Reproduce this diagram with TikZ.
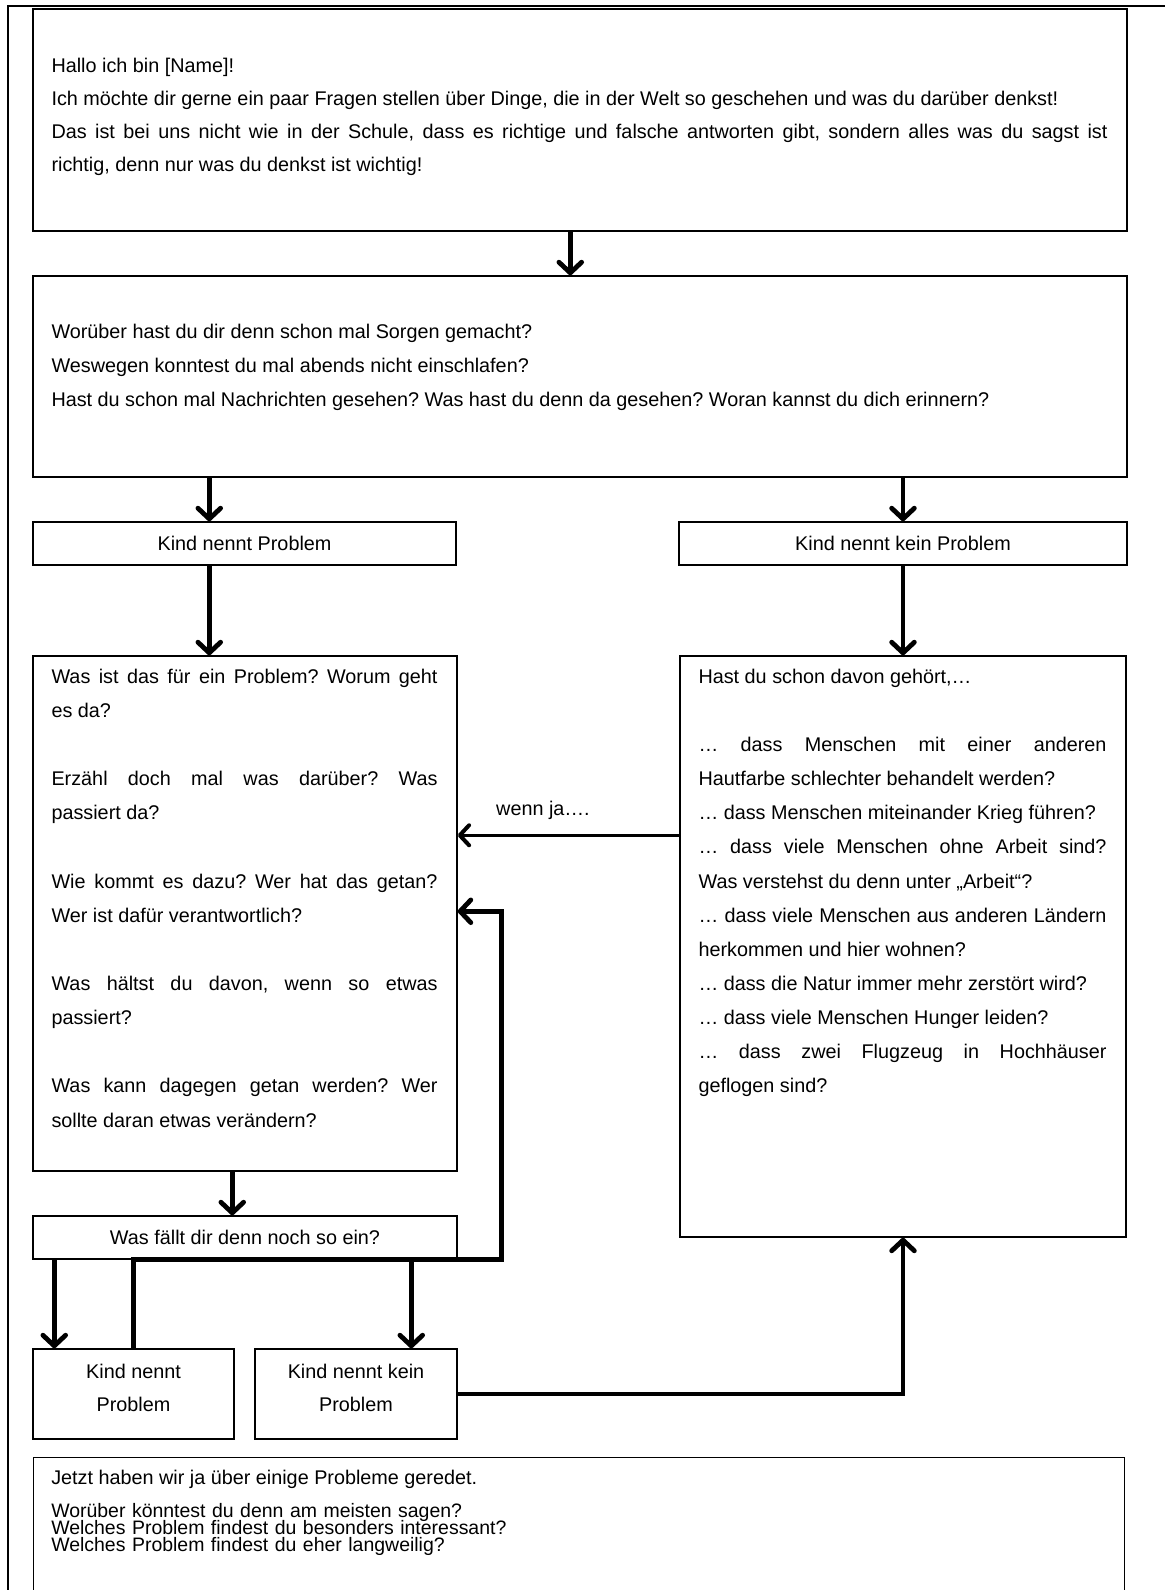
\documentclass[tikz,border=0pt]{standalone}
\usepackage{fontspec}
\setmainfont{Liberation Sans}
\usetikzlibrary{arrows.meta,calc}
\hyphenpenalty=10000
\exhyphenpenalty=10000
\tolerance=2000
\frenchspacing

\tikzset{
  box/.style={draw,line width=1.1pt,rectangle,inner sep=0pt},
  txt/.style={inner sep=0pt,align=justify,font=\fontsize{14.85}{25.6}\selectfont},
  lbl/.style={inner sep=0pt,align=center,font=\fontsize{14.85}{25}\selectfont},
  tight/.style={inner sep=0pt,align=left,font=\fontsize{14.6}{12.8}\selectfont},
  fat/.style={line width=3.6pt},
  fatarrow/.style={fat,-{Straight Barb[length=8pt,width=17pt,round]}},
  thinarrow/.style={line width=2.1pt,-{Straight Barb[length=7pt,width=15pt,round,line width=3pt]}},
}

\begin{document}
\begin{tikzpicture}[x=0.75pt,y=-0.75pt]
\useasboundingbox (0,0) rectangle (1165,1590);
% page frame
\draw[line width=1.1pt] (8,1590) -- (8,6) -- (1165,6);

% boxes
\node[box,minimum width=820.5pt,minimum height=166.5pt] (hallo) at (580,120) {};
\node[box,minimum width=820.5pt,minimum height=150.75pt] (fragen) at (580,376.5) {};
\node[box,lbl,minimum width=317.25pt,minimum height=32.25pt] (kp) at (244.5,543.5) {Kind nennt Problem};
\node[box,lbl,minimum width=336pt,minimum height=32.25pt] (kkp) at (903,543.5) {Kind nennt kein Problem};
\node[box,minimum width=318pt,minimum height=386.25pt] (problem) at (245,913.5) {};
\node[box,minimum width=334.5pt,minimum height=435.75pt] (gehoert) at (903,946.5) {};
\node[box,lbl,minimum width=318pt,minimum height=32.25pt] (einfall) at (245,1237.5) {Was fällt dir denn noch so ein?};
\node[box,lbl,text depth=9pt,minimum width=150.75pt,minimum height=67.5pt] (kp2) at (133.5,1394) {Kind nennt\\Problem};
\node[box,lbl,text depth=9pt,minimum width=151.5pt,minimum height=67.5pt] (kkp2) at (356,1394) {Kind nennt kein\\Problem};
\node[box,minimum width=818.25pt,minimum height=150pt,anchor=north west] (ende) at (33,1457) {};

% texts
\node[txt,font=\fontsize{14.85}{24.8}\selectfont,text width=792pt,anchor=base west] (halloT)
  at ($(hallo.north west)+(19,64)$) {Hallo ich bin [Name]!\\
  Ich möchte dir gerne ein paar Fragen stellen über Dinge, die in der Welt so geschehen und was du darüber denkst!\\
  Das ist bei uns nicht wie in der Schule, dass es richtige und falsche antworten gibt, sondern alles was du sagst ist\linebreak richtig, denn nur was du denkst ist wichtig!};
\node[txt,text width=792pt,anchor=base west] (fragenT)
  at ($(fragen.north west)+(19,63)$) {Worüber hast du dir denn schon mal Sorgen gemacht?\\
  Weswegen konntest du mal abends nicht einschlafen?\\
  Hast du schon mal Nachrichten gesehen? Was hast du denn da gesehen? Woran kannst du dich erinnern?};
\node[txt,text width=289.5pt,anchor=base west] (problemT)
  at ($(problem.north west)+(19,28)$) {Was ist das für ein Problem? Worum geht\linebreak es da?\\[25.6pt]
  Erzähl doch mal was darüber? Was\linebreak passiert da?\\[25.6pt]
  Wie kommt es dazu? Wer hat das getan?\linebreak Wer ist dafür verantwortlich?\\[25.6pt]
  Was hältst du davon, wenn so etwas\linebreak passiert?\\[25.6pt]
  Was kann dagegen getan werden? Wer\linebreak sollte daran etwas verändern?};
\node[txt,text width=306pt,anchor=base west] (gehoertT)
  at ($(gehoert.north west)+(19,28)$) {Hast du schon davon gehört,…\\[25.6pt]
  … dass Menschen mit einer anderen\linebreak Hautfarbe schlechter behandelt werden?\\
  … dass Menschen miteinander Krieg führen?\\
  … dass viele Menschen ohne Arbeit sind?\linebreak Was verstehst du denn unter „Arbeit“?\\
  … dass viele Menschen aus anderen Ländern\linebreak herkommen und hier wohnen?\\
  … dass die Natur immer mehr zerstört wird?\\
  … dass viele Menschen Hunger leiden?\\
  … dass zwei Flugzeug in Hochhäuser\linebreak geflogen sind?};
\node[lbl,anchor=base west] (endeT) at ($(ende.north west)+(18,27)$)
  {Jetzt haben wir ja über einige Probleme geredet.};
\node[tight,text width=600pt,anchor=base west] (endeS) at ($(ende.north west)+(18,60)$)
  {\lineskiplimit=-20pt\relax
  Worüber könntest du denn am meisten sagen?\\
  Welches Problem findest du besonders interessant?\\
  Welches Problem findest du eher langweilig?};
\node[lbl,anchor=base] (wennja) at (543,815) {wenn ja….};

% connectors
\coordinate (h1) at ($(hallo.south west)+(538,0)$);
\coordinate (f1) at ($(fragen.south west)+(177,0)$);
\coordinate (k1) at ($(kp.south west)+(177,0)$);
\coordinate (p1) at ($(problem.south west)+(200,0)$);
\coordinate (e1) at ($(einfall.south west)+(22,0)$);
\coordinate (e2) at ($(kkp2.north west)+(157,0)$);
\coordinate (ja) at ($(gehoert.north west)+(0,180)$);
\coordinate (bend) at ($(einfall.south east)+(44,0)$);
\coordinate (back) at ($(problem.north east)+(0,256)$);

\draw[fatarrow] (h1) -- (h1 |- fragen.north);
\draw[fatarrow] (f1) -- (f1 |- kp.north);
\draw[fatarrow] (fragen.south -| kkp.north) -- (kkp.north);
\draw[fatarrow] (k1) -- (k1 |- problem.north);
\draw[fatarrow] (kkp.south) -- (gehoert.north);
\draw[thinarrow] (ja) -- (ja -| problem.east);
\draw[fatarrow] (p1) -- (p1 |- einfall.north);
\draw[fatarrow] (e1) -- (e1 |- kp2.north);
\draw[fatarrow] (e2 |- einfall.south) -- (e2);
\draw[fatarrow] (kp2.north) |- (bend) |- (back);
\draw[fatarrow] (kkp2.east) -| (gehoert.south);
\end{tikzpicture}
\end{document}
